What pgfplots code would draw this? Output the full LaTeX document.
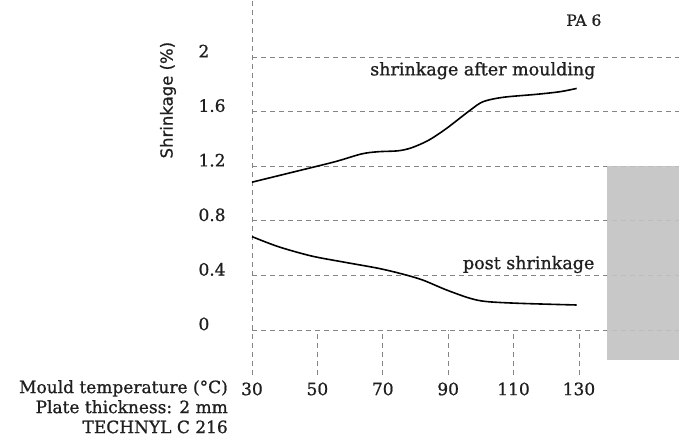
\documentclass[border=0pt]{standalone}
\usepackage{pgfplots}
\pgfplotsset{compat=1.18}
\usepackage{fontspec}
\setmainfont{DejaVu Serif}[FakeBold=0.9]
\newfontfamily\labsans{DejaVu Sans}[FakeBold=0.7]
\definecolor{txt}{gray}{0.12}
\definecolor{gridc}{gray}{0.52}
\definecolor{boxc}{gray}{0.76}
\begin{document}
\begin{tikzpicture}[x=1pt,y=1pt]
\useasboundingbox (-252,-72) rectangle (427,375);
\begin{axis}[
  at={(0,0)}, anchor=south west, scale only axis,
  width=427pt, height=375pt,
  xmin=30, xmax=160.6, ymin=-0.33, ymax=2.418,
  axis line style={draw=none},
  tick style={draw=none},
  xtick={30,50,70,90,110,130},
  ytick={0,0.4,0.8,1.2,1.6,2},
  ymajorgrids,
  major grid style={gridc, dash pattern=on 5pt off 4pt, line width=0.9pt},
  /pgf/number format/assume math mode=true,
  /pgf/number format/fixed,
  ticklabel style={font=\fontsize{17}{20}\selectfont, text=txt},
  yticklabel style={anchor=west, xshift=-57pt, yshift=6pt},
  xticklabel style={yshift=-4pt},
  xlabel={Mould temperature (°C)\\Plate thickness: 2 mm\\TECHNYL C 216},
  xlabel style={at={(rel axis cs:-0.0562,-0.0133)}, anchor=north east, align=right,
    font=\fontsize{17}{20}\selectfont, inner sep=0pt, text=txt},
  ylabel={Shrinkage (\%)},
  ylabel style={at={(rel axis cs:-0.1967,0.733)}, anchor=center,
    font=\labsans\fontsize{16.5}{20}\selectfont, text=txt},
  clip=false,
]
% grey block
\addplot[fill=boxc, draw=none, fill opacity=0.9] coordinates {(138.6,-0.22) (160.6,-0.22) (160.6,1.2) (138.6,1.2) (138.6,-0.22)};
% vertical dashed lines
\addplot[gridc, dash pattern=on 5pt off 4pt, line width=0.9pt] coordinates {(30,-0.33) (30,2.418)};
\pgfplotsinvokeforeach{50,70,90,110,130}{
  \addplot[gridc, dash pattern=on 5pt off 4pt, line width=0.9pt] coordinates {(#1,-0.33) (#1,0)};
}
% shrinkage after moulding
\addplot[black, line width=1.6pt, smooth, tension=0.5] coordinates {
(30,1.083) (43.1,1.16) (55.4,1.233) (63.5,1.29) (68.5,1.306) (74.7,1.313) (78.8,1.335)
(84,1.39) (89.5,1.477) (96.7,1.61) (100.7,1.673) (106.8,1.705) (117.1,1.727) (124.2,1.746) (129.3,1.77)};
% post shrinkage
\addplot[black, line width=1.6pt, smooth, tension=0.5] coordinates {
(30,0.684) (38.1,0.61) (48.2,0.542) (58.4,0.496) (68.6,0.452) (76,0.41) (82.2,0.366)
(89.5,0.293) (96.7,0.232) (101.8,0.208) (112,0.195) (129.3,0.183)};
\node[text=txt, font=\fontsize{17.5}{20}\selectfont] at (axis cs:100.6,1.9) {shrinkage after moulding};
\node[text=txt, font=\fontsize{17.5}{20}\selectfont, anchor=east] at (axis cs:135.8,0.48) {post shrinkage};
\node[text=txt, font=\fontsize{15.5}{18}\selectfont] at (axis cs:131.5,2.27) {PA 6};
\end{axis}
\end{tikzpicture}
\end{document}
